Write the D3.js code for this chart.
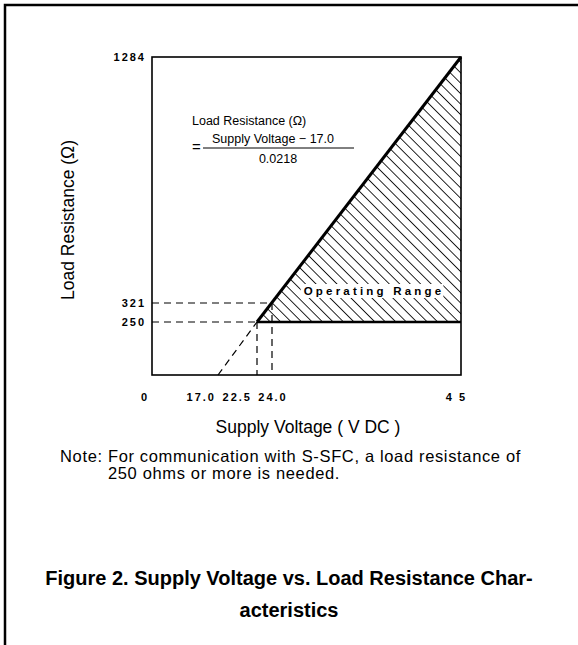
<!DOCTYPE html>
<html>
<head>
<meta charset="utf-8">
<script src="https://cdn.jsdelivr.net/npm/d3@7"></script>
<style>
  body { margin: 0; background: #fff; }
  text { font-family: "Liberation Sans", Arial, sans-serif; fill: #000; }
  .tick-lbl { font-weight: bold; font-size: 11px; letter-spacing: 2px; }
</style>
</head>
<body>
<div class="canvas"></div>
<script>
// data
const xTicks = [0, 17.0, 22.5, 24.0, 45];
const xTickLabels = ["0", "17.0", "22.5", "24.0", "4 5"];
const yTicks = [250, 321, 1284];
const yTickLabels = ["250", "321", "1284"];
const minVoltage = 22.5;   // V at 250 ohm
const maxVoltage = 45;     // V at 1284 ohm
const zeroVoltage = 17.0;  // intercept
const minLoad = 250;
const maxLoad = 1284;
const point24 = [24.0, 321];

const width = 578, height = 645;

const svg = d3.select(".canvas").append("svg")
  .attr("width", width).attr("height", height);

// schematic (piecewise) scales, the original chart is not to scale
const x = d3.scaleLinear().domain([0, 17, 22.5, 24, 45]).range([152, 218, 257, 272, 461]);
const y = d3.scaleLinear().domain([0, 250, 321, 1284]).range([375, 322, 303, 57]);

// outer frame (top + left)
svg.append("path")
  .attr("d", `M5,${height} L5,5 L${width},5`)
  .attr("fill", "none").attr("stroke", "#000").attr("stroke-width", 2.5);

// hatch pattern
const defs = svg.append("defs");
const hs = 7.4;
const pat = defs.append("pattern")
  .attr("id", "hatch")
  .attr("patternUnits", "userSpaceOnUse")
  .attr("width", hs).attr("height", hs)
  .attr("patternTransform", "rotate(-45)");
pat.append("line")
  .attr("x1", 0).attr("y1", 0).attr("x2", 0).attr("y2", hs)
  .attr("stroke", "#000").attr("stroke-width", 1.7);

const g = svg.append("g");

// operating range area
const region = [
  [minVoltage, minLoad],
  [maxVoltage, maxLoad],
  [maxVoltage, minLoad]
];
g.append("path")
  .datum(region)
  .attr("d", d3.line().x(d => x(d[0])).y(d => y(d[1])).curve(d3.curveLinearClosed))
  .attr("fill", "url(#hatch)");

// plot box
g.append("rect")
  .attr("x", x(0)).attr("y", y(maxLoad))
  .attr("width", x(45) - x(0)).attr("height", y(0) - y(maxLoad))
  .attr("fill", "none").attr("stroke", "#000").attr("stroke-width", 1.6);

// dashed guides
const dash = "7,5";
const dashed = (x1, y1, x2, y2) => g.append("line")
  .attr("x1", x(x1)).attr("y1", y(y1)).attr("x2", x(x2)).attr("y2", y(y2))
  .attr("stroke", "#000").attr("stroke-width", 1.2).attr("stroke-dasharray", dash);

dashed(0, point24[1], point24[0], point24[1]);
dashed(0, minLoad, minVoltage, minLoad);
dashed(minVoltage, minLoad, minVoltage, 0);
dashed(point24[0], point24[1], point24[0], 0);
dashed(zeroVoltage, 0, minVoltage, minLoad);

// boundary lines
g.append("line")
  .attr("x1", x(minVoltage)).attr("y1", y(minLoad))
  .attr("x2", x(maxVoltage)).attr("y2", y(maxLoad))
  .attr("stroke", "#000").attr("stroke-width", 3);
g.append("line")
  .attr("x1", x(minVoltage)).attr("y1", y(minLoad))
  .attr("x2", x(maxVoltage)).attr("y2", y(minLoad))
  .attr("stroke", "#000").attr("stroke-width", 2.6);

// Operating Range label with white backing
const opLbl = g.append("text")
  .attr("x", 374).attr("y", 295)
  .attr("text-anchor", "middle")
  .style("font-weight", "bold").style("font-size", "11.5px").style("letter-spacing", "3.2px")
  .text("Operating Range");
const bb = opLbl.node().getBBox();
g.insert("rect", "text")
  .attr("x", bb.x - 3).attr("y", bb.y - 1)
  .attr("width", bb.width + 2).attr("height", bb.height + 2)
  .attr("fill", "#fff");

// y tick labels
yTicks.forEach((t, i) => {
  svg.append("text").attr("class", "tick-lbl")
    .attr("x", x(0) - 6).attr("y", y(t) + 4)
    .attr("text-anchor", "end")
    .text(yTickLabels[i]);
});

// x tick labels (offsets as in the original artwork)
const xAnchor = { 0: ["middle", -7], 17: ["end", -2], 22.5: ["end", -5], 24: ["middle", 1], 45: ["end", 6] };
xTicks.forEach((t, i) => {
  svg.append("text").attr("class", "tick-lbl")
    .attr("x", x(t) + xAnchor[t][1]).attr("y", 401)
    .attr("text-anchor", xAnchor[t][0])
    .text(xTickLabels[i]);
});

// formula
const f = svg.append("g").style("font-size", "12.5px");
f.append("text").attr("x", 192).attr("y", 125).text("Load Resistance (Ω)");
f.append("text").attr("x", 192).attr("y", 152).style("font-size", "15px").text("=");
f.append("text").attr("x", 212).attr("y", 143).text("Supply Voltage \u2212 17.0");
f.append("line").attr("x1", 203).attr("x2", 354).attr("y1", 148).attr("y2", 148)
  .attr("stroke", "#000").attr("stroke-width", 1);
f.append("text").attr("x", 278).attr("y", 163).attr("text-anchor", "middle").text("0.0218");

// axis titles
svg.append("text")
  .attr("transform", "translate(74,220) rotate(-90)")
  .attr("text-anchor", "middle").style("font-size", "17.5px")
  .text("Load Resistance (Ω)");
svg.append("text")
  .attr("x", 308).attr("y", 433).attr("text-anchor", "middle").style("font-size", "17.5px")
  .text("Supply Voltage ( V DC )");

// note
const noteSize = "16.5px";
const noteGap = "0.65px";
const note = svg.append("text").attr("x", 60).attr("y", 462)
  .style("font-size", noteSize).style("letter-spacing", noteGap);
const noteHead = note.append("tspan").text("Note: ");
note.append("tspan").text("For communication with S-SFC, a load resistance of");
const indent = 60 + noteHead.node().getComputedTextLength();
svg.append("text").attr("x", indent).attr("y", 479)
  .style("font-size", noteSize).style("letter-spacing", noteGap)
  .text("250 ohms or more is needed.");

// caption
svg.append("text").attr("x", 289).attr("y", 585).attr("text-anchor", "middle")
  .style("font-weight", "bold").style("font-size", "20px")
  .text("Figure 2. Supply Voltage vs. Load Resistance Char-");
svg.append("text").attr("x", 289).attr("y", 617).attr("text-anchor", "middle")
  .style("font-weight", "bold").style("font-size", "20px")
  .text("acteristics");
</script>
</body>
</html>
